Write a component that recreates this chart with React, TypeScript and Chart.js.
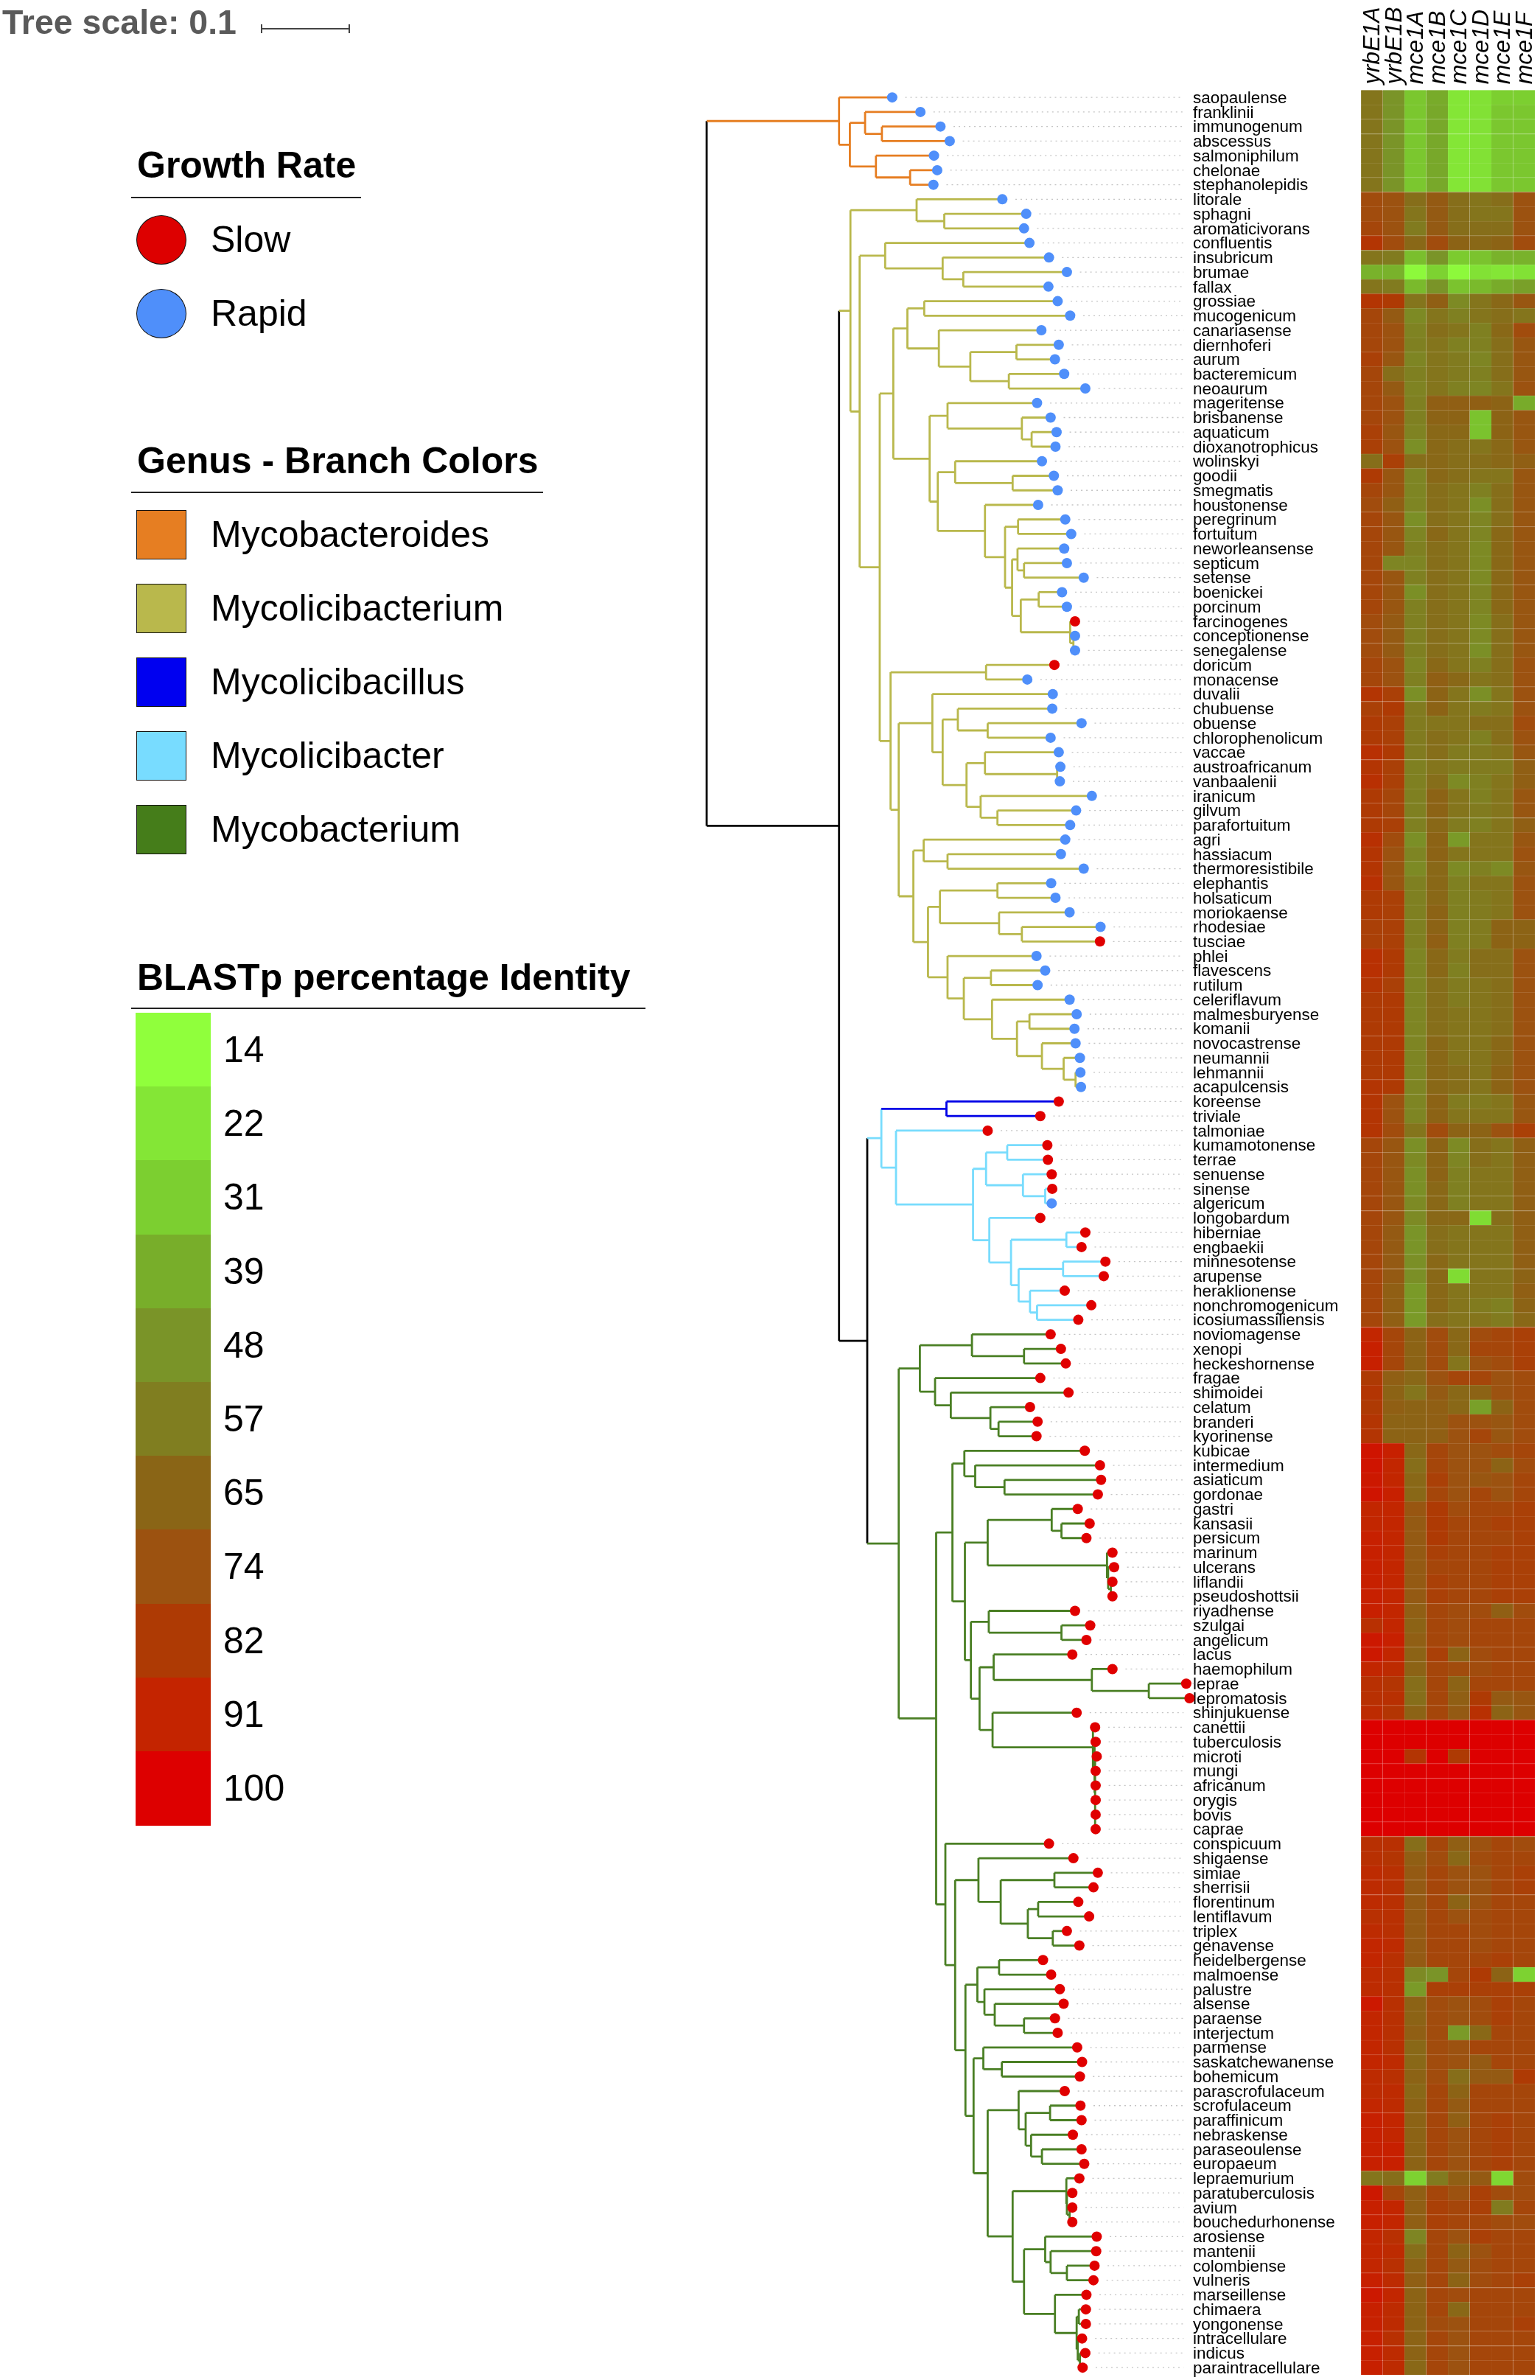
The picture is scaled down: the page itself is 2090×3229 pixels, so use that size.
import React, { useEffect, useRef } from "react";
import { Chart, registerables } from "chart.js";

Chart.register(...registerables);

const species = [
  "saopaulense","franklinii","immunogenum","abscessus","salmoniphilum","chelonae","stephanolepidis",
  "litorale","sphagni","aromaticivorans","confluentis","insubricum","brumae","fallax",
  "grossiae","mucogenicum","canariasense","diernhoferi","aurum","bacteremicum","neoaurum",
  "mageritense","brisbanense","aquaticum","dioxanotrophicus","wolinskyi","goodii","smegmatis",
  "houstonense","peregrinum","fortuitum","neworleansense","septicum","setense","boenickei","porcinum","farcinogenes","conceptionense","senegalense",
  "doricum","monacense","duvalii","chubuense","obuense","chlorophenolicum","vaccae","austroafricanum","vanbaalenii","iranicum","gilvum","parafortuitum",
  "agri","hassiacum","thermoresistibile","elephantis","holsaticum","moriokaense","rhodesiae","tusciae",
  "phlei","flavescens","rutilum","celeriflavum","malmesburyense","komanii","novocastrense","neumannii","lehmannii","acapulcensis",
  "koreense","triviale","talmoniae","kumamotonense","terrae","senuense","sinense","algericum","longobardum",
  "hiberniae","engbaekii","minnesotense","arupense","heraklionense","nonchromogenicum","icosiumassiliensis",
  "noviomagense","xenopi","heckeshornense","fragae","shimoidei","celatum","branderi","kyorinense",
  "kubicae","intermedium","asiaticum","gordonae","gastri","kansasii","persicum","marinum","ulcerans","liflandii","pseudoshottsii",
  "riyadhense","szulgai","angelicum","lacus","haemophilum","leprae","lepromatosis","shinjukuense",
  "canettii","tuberculosis","microti","mungi","africanum","orygis","bovis","caprae",
  "conspicuum","shigaense","simiae","sherrisii","florentinum","lentiflavum","triplex","genavense",
  "heidelbergense","malmoense","palustre","alsense","paraense","interjectum","parmense","saskatchewanense","bohemicum",
  "parascrofulaceum","scrofulaceum","paraffinicum","nebraskense","paraseoulense","europaeum",
  "lepraemurium","paratuberculosis","avium","bouchedurhonense","arosiense","mantenii","colombiense","vulneris",
  "marseillense","chimaera","yongonense","intracellulare","indicus","paraintracellulare",
];

const genes = ["yrbE1A","yrbE1B","mce1A","mce1B","mce1C","mce1D","mce1E","mce1F"];

// BLASTp percentage identity, one row per species, one value per gene.
const identity: number[][] = [
  [60,48,33,40,22,24,31,31],[60,48,33,41,22,24,33,33],[60,48,33,41,22,24,33,33],[60,48,33,41,22,24,33,33],[60,48,33,41,22,24,33,33],[60,48,33,41,22,24,33,33],[60,48,33,41,22,24,33,33],
  [76,74,62,70,62,60,62,74],[76,74,60,70,62,60,60,74],[78,74,58,70,62,62,62,74],[84,76,64,76,66,64,66,76],[60,58,35,48,32,34,38,38],[38,38,16,30,16,24,22,24],[60,58,36,48,34,36,40,44],
  [84,82,60,68,52,60,64,72],[78,70,52,60,56,60,62,60],[78,74,55,62,60,56,64,76],[78,74,56,60,56,56,62,72],[80,72,54,60,58,54,62,72],[78,62,56,60,58,56,62,72],[78,70,55,60,56,54,60,74],
  [78,74,56,68,68,68,66,40],[78,74,56,66,66,34,66,72],[80,72,55,64,64,34,66,72],[80,74,50,64,62,60,64,72],[62,80,62,64,62,62,64,68],[82,72,54,64,62,60,60,72],[78,72,54,62,60,56,62,72],
  [76,68,54,62,60,50,62,72],[78,72,50,62,60,54,62,72],[78,72,54,64,60,54,64,72],[78,72,56,62,60,52,64,72],[78,54,54,62,60,52,64,72],[78,72,56,62,60,52,64,72],[78,72,50,62,60,54,64,72],[78,72,56,62,60,54,64,72],[76,70,56,62,60,52,62,72],[76,70,56,62,60,52,62,72],[76,70,56,62,60,50,62,72],
  [78,74,54,64,60,56,62,74],[78,74,56,68,64,60,62,74],[84,80,50,66,60,50,60,74],[80,82,58,66,60,58,60,74],[82,80,58,60,60,62,62,76],[82,80,58,62,60,56,62,74],[86,82,58,62,58,58,60,72],[84,80,56,60,58,58,58,68],[86,80,56,62,52,56,60,68],[82,78,56,66,60,56,60,72],[82,78,56,66,60,58,60,72],[82,80,56,64,58,56,60,68],
  [86,76,50,66,46,60,60,72],[84,74,54,66,60,60,60,74],[84,72,52,64,52,56,52,72],[86,72,56,64,56,60,60,74],[82,80,56,64,56,58,60,74],[82,80,56,66,56,58,60,74],[80,80,56,66,56,58,66,66],[80,80,56,68,56,58,66,66],
  [86,82,54,64,58,62,62,74],[86,82,54,64,56,62,62,74],[84,80,54,62,58,60,62,74],[82,82,54,62,58,60,62,74],[82,82,54,62,60,60,62,74],[82,82,54,62,60,60,62,74],[82,82,54,64,60,60,64,74],[82,82,54,64,60,60,64,74],[82,82,54,64,62,60,66,74],[84,82,54,64,62,60,66,74],
  [84,74,54,66,58,58,60,72],[84,74,54,66,60,60,60,72],[84,76,60,76,66,66,74,80],[78,72,50,66,52,62,60,68],[78,72,52,66,54,62,60,68],[78,72,50,66,56,60,60,68],[78,72,50,64,56,60,60,68],[78,72,52,64,56,60,60,68],[78,72,52,64,64,26,62,68],
  [78,70,48,62,60,60,60,68],[78,70,48,62,60,60,60,68],[78,70,50,64,60,60,60,68],[78,70,50,64,26,60,60,66],[78,68,46,64,60,60,60,68],[78,68,46,64,60,58,56,66],[78,68,46,62,60,60,58,64],
  [90,78,66,76,64,76,78,80],[92,78,66,76,64,78,78,80],[92,78,66,76,60,74,76,80],[82,68,64,74,78,78,74,76],[84,66,60,70,64,66,74,76],[82,68,66,68,64,44,66,76],[84,66,66,68,74,74,72,76],[84,66,66,68,74,78,72,76],
  [95,92,64,78,74,74,76,78],[95,90,62,78,74,74,66,76],[94,90,64,80,74,72,74,78],[95,92,64,78,74,78,74,78],[90,90,72,82,76,78,78,80],[90,90,70,82,78,78,80,80],[92,90,70,82,78,78,78,80],[92,90,70,80,78,78,80,80],[92,90,70,78,78,78,80,80],[92,90,70,80,78,78,80,80],[92,90,70,80,78,78,80,80],
  [92,90,68,78,76,76,68,76],[86,90,66,78,76,78,78,78],[94,92,68,78,76,78,78,78],[94,90,66,80,66,76,78,78],[90,88,66,78,76,76,78,78],[86,84,62,78,66,78,78,78],[86,86,62,78,68,82,70,72],[88,84,66,78,70,86,66,72],
  [100,100,100,100,100,100,100,100],[100,100,100,100,100,100,100,100],[100,100,84,100,82,100,100,100],[100,100,100,100,100,100,100,100],[100,100,100,100,100,100,100,100],[100,100,100,100,100,100,100,100],[100,100,100,100,100,100,100,100],[100,100,100,100,100,100,100,100],
  [86,86,62,78,68,74,78,76],[86,84,68,76,64,76,78,78],[88,86,70,78,74,74,78,80],[88,86,70,78,74,74,78,80],[88,86,70,78,66,74,78,78],[86,86,70,78,74,76,78,78],[88,86,70,78,78,76,78,78],[90,88,70,78,78,76,78,78],
  [90,86,70,78,78,78,80,78],[88,86,52,48,78,82,66,30],[88,86,46,80,80,80,80,80],[94,86,66,76,74,76,80,78],[90,86,66,76,74,76,80,78],[90,86,68,76,46,64,78,78],[90,86,64,76,74,78,78,78],[90,88,64,76,74,70,78,78],[88,86,66,76,62,70,70,82],
  [88,88,64,78,66,78,78,78],[90,88,66,78,70,78,78,78],[92,90,66,78,68,78,80,78],[92,90,66,78,74,78,80,78],[92,92,66,78,74,78,80,78],[92,92,66,78,74,78,80,78],
  [60,62,30,58,68,70,28,76],[94,78,68,78,74,80,76,76],[92,90,68,80,78,80,58,78],[92,90,68,80,78,78,76,76],[90,86,54,78,74,80,78,78],[90,88,62,78,66,74,78,78],[90,86,66,78,70,76,78,78],[92,88,68,78,66,76,78,80],
  [94,90,66,78,76,78,78,78],[92,88,66,78,64,78,78,78],[92,88,66,76,74,78,78,80],[92,86,66,78,74,78,78,78],[92,88,66,78,74,78,78,78],[92,88,64,78,74,78,78,78],
];

const identityLegend = [14, 22, 31, 39, 48, 57, 65, 74, 82, 91, 100];
const identityLegendColors = ["#90ff3c","#84e636","#7ccf30","#78ae2a","#7a9428","#807e20","#8a6516","#9c5210","#ae3a04","#c42400","#dd0000"];

const slowAmongRapid = ["farcinogenes", "doricum", "tusciae"];
const rapidAmongSlow = ["algericum"];
const firstSlowGrower = "koreense";

// Tree: a clade is [node position, ...children]; a bare number is the tip position of the next species in order.
type Clade = number | Clade[];
const mycobacteroides: Clade = [280, 378, [300, [328, 430, [359, 467, 484]], [348, 455, [411, 461, 454]]]];
const mycolicibacterium: Clade = [301,
  [423, 581, [474, 625, 621]],
  [318,
    [365, 631, [471, 667, [509, 700, 666]]],
    [355,
      [380,
        [406, [437, 683, 706], [464, 653, [522, [607, 685, 678], [593, 695, 734]]]],
        [447,
          [480, 645, [617, 670, [635, 681, 679]]],
          [462,
            [494, 654, [600, 676, 683]],
            [549, 647, [586, [610, 697, 708], [599, [609, 695, [621, 700, 731]], [615, [648, 691, 700], [706, 715, [712, 715, 715]]]]]],
          ],
        ],
      ],
      [375,
        [551, 677, 627],
        [390,
          [452, 674, [471, [499, 673, [554, 727, 670]], [515, [549, 685, [682, 688, 687]], [541, 746, [572, 717, 706]]]]],
          [417,
            [436, 697, [480, 689, 731]],
            [444,
              [466, [572, 671, 679], [575, 705, [617, 762, 761]]],
              [480, 644, [510, [560, 660, 646], [562, 705, [608, [631, 718, 714], [654, 716, [694, 724, [716, 725, 726]]]]]]],
            ],
          ],
        ],
      ],
    ],
  ],
];
const mycolicibacillus: Clade = [478, 685, 651];
const mycolicibacter: Clade = [358, mycolicibacillus,
  [385, 554,
    [527,
      [551, [590, 664, 665], [619, 672, [660, 673, 672]]],
      [557, 651, [597, [699, 734, 727], [611, [693, 771, 768], [632, 696, [645, 745, 721]]]]],
    ],
  ],
];
const mycobacterium: Clade = [390,
  [429, [525, 670, [621, 689, 698]], [457, 651, [486, 703, [559, 632, [574, 646, 644]]]]],
  [459,
    [489,
      [511, 733, [531, 761, [585, 763, 757]]],
      [512,
        [554, [672, 720, [690, 742, 736]], [774, 784, [776, 787, [781, 784, 784]]]],
        [523,
          [556, 715, [690, 743, 736]],
          [539,
            [565, 710, [746, 784, [851, 920, 926]]],
            [563, 718, [748, 752, [751, 753, [752, 755, 753, 753, 753, 753, 753]]]],
          ],
        ],
      ],
    ],
    [476, 667,
      [494,
        [537, 712, [578, [677, 757, 749], [628, [647, 721, 741], [674, 700, 723]]]],
        [513,
          [535, [575, 656, 671], [548, 687, [567, 694, [621, 678, 683]]]],
          [528,
            [546, 719, [580, 728, 724]],
            [554,
              [611, 696, [624, [669, 725, 727], [634, 711, [654, 727, 732]]]],
              [600,
                [699, 723, [700, 710, [705, 710, 710]]],
                [621,
                  [660, 755, [670, 754, [700, 751, 749]]],
                  [678, 736, [718, [722, 735, 735], [720, 728, [724, 734, 729]]]],
                ],
              ],
            ],
          ],
        ],
      ],
    ],
  ],
];
const backbone: Clade = [36, mycobacteroides, [280, mycolicibacterium, [332, mycolicibacter, mycobacterium]]];

const BLACK = "#000000";
const ORANGE = "#e67e22";
const OLIVE = "#b9b84c";
const BLUE = "#0000e6";
const CYAN = "#78dcfd";
const GREEN = "#4a7f24";
const SLOW = "#e00000";
const RAPID = "#4f8ffa";

const genusLegend: [string, string][] = [
  ["Mycobacteroides", ORANGE],
  ["Mycolicibacterium", OLIVE],
  ["Mycolicibacillus", "#0000f0"],
  ["Mycolicibacter", "#78dcff"],
  ["Mycobacterium", "#457d1a"],
];
const growthLegend: [string, string][] = [["Slow", "#dd0000"], ["Rapid", "#4f8ffa"]];

function hexRgb(h: string) {
  return [1, 3, 5].map((i) => parseInt(h.slice(i, i + 2), 16));
}
function identityColor(v: number, lighten = 0): string {
  let c = hexRgb(identityLegendColors[identityLegendColors.length - 1]);
  for (let i = 1; i < identityLegend.length; i++) {
    const a = identityLegend[i - 1];
    const b = identityLegend[i];
    if (v <= b) {
      const t = Math.max(0, (v - a) / (b - a));
      const ca = hexRgb(identityLegendColors[i - 1]);
      const cb = hexRgb(identityLegendColors[i]);
      c = ca.map((k, j) => k + (cb[j] - k) * t);
      break;
    }
  }
  const m = c.map((k) => Math.round(k + (255 - k) * lighten));
  return `rgb(${m[0]},${m[1]},${m[2]})`;
}

function buildTree() {
  const colorOf = new Map<Clade, string>([
    [mycobacteroides, ORANGE], [mycolicibacterium, OLIVE], [mycolicibacillus, BLUE], [mycolicibacter, CYAN], [mycobacterium, GREEN],
  ]);
  const segments: Record<string, { x: number; y: number }[]> = {};
  const add = (color: string, a: { x: number; y: number }, b: { x: number; y: number }) => {
    (segments[color] = segments[color] || []).push(a, b, { x: NaN, y: NaN });
  };
  const tips: { x: number; y: number }[] = [];
  const walk = (node: Clade, inherited: string): { x: number; y: number; color: string } => {
    if (typeof node === "number") {
      const tip = { x: node, y: tips.length };
      tips.push(tip);
      return { ...tip, color: inherited };
    }
    const color = colorOf.get(node) || inherited;
    const [x, ...kids] = node as [number, ...Clade[]];
    const placed = kids.map((k) => walk(k, color));
    const y = (placed[0].y + placed[placed.length - 1].y) / 2;
    placed.forEach((p) => add(p.color, { x, y: p.y }, { x: p.x, y: p.y }));
    add(color, { x, y: placed[0].y }, { x, y: placed[placed.length - 1].y });
    return { x, y, color };
  };
  walk(backbone, BLACK);
  return { segments, tips };
}

export default function App() {
  const ref = useRef<HTMLCanvasElement>(null);
  useEffect(() => {
    document.body.style.margin = "0";
    const { segments, tips } = buildTree();
    const firstSlow = species.indexOf(firstSlowGrower);
    const isSlow = (i: number) =>
      i >= firstSlow ? !rapidAmongSlow.includes(species[i]) : slowAmongRapid.includes(species[i]);
    const leaders: { x: number; y: number }[] = [];
    tips.forEach((t) => leaders.push({ x: t.x + 24, y: t.y }, { x: 915, y: t.y }, { x: NaN, y: NaN }));

    const heat = genes.map((g, c) => ({
      type: "bar" as const,
      label: g,
      xAxisID: "xHeat",
      yAxisID: "y",
      indexAxis: "y" as const,
      grouped: false,
      barThickness: 19.75,
      data: species.map((_, i) => ({ x: [c, c + 1], y: i })),
      backgroundColor: species.map((_, i) => identityColor(identity[i][c])),
      borderColor: species.map((_, i) => identityColor(identity[i][c], 0.12)),
      borderWidth: { top: 1, bottom: 0, left: 0, right: 0 },
      order: 5,
    }));
    const branches = Object.keys(segments).map((color) => ({
      type: "scatter" as const,
      label: "branches " + color,
      xAxisID: "xTree",
      yAxisID: "y",
      data: segments[color],
      showLine: true,
      spanGaps: false,
      borderColor: color,
      borderWidth: 2.8,
      pointRadius: 0,
      order: 3,
    }));
    const chart = new Chart(ref.current!, {
      type: "bar",
      data: {
        datasets: [
          ...heat,
          {
            type: "scatter",
            label: "leaders",
            xAxisID: "xTree",
            yAxisID: "y",
            data: leaders,
            showLine: true,
            spanGaps: false,
            borderColor: "#c4c4c4",
            borderWidth: 1.3,
            borderDash: [2, 5],
            pointRadius: 0,
            order: 4,
          },
          ...branches,
          {
            type: "scatter",
            label: "growth rate",
            xAxisID: "xTree",
            yAxisID: "y",
            data: tips,
            pointRadius: 7,
            pointBorderWidth: 0,
            pointBackgroundColor: tips.map((_, i) => (isSlow(i) ? SLOW : RAPID)),
            order: 1,
          },
        ] as any,
      },
      options: {
        responsive: false,
        animation: false,
        events: [],
        layout: { padding: { left: 0, right: 4, top: 0, bottom: 6 } },
        plugins: { legend: { display: false }, tooltip: { enabled: false } },
        scales: {
          xTree: {
            axis: "x",
            type: "linear",
            display: false,
            offset: false,
            bounds: "data",
            min: (0 - 930) * 1.3517,
            max: (2086 - 930) * 1.3517,
          },
          xHeat: {
            axis: "x",
            type: "linear",
            position: "top",
            offset: false,
            bounds: "data",
            min: -1849 / 29.625,
            max: 8,
            grid: { display: false, drawTicks: false, offset: false },
            border: { display: false },
            afterBuildTicks: (s: any) => {
              s.ticks = genes.map((_, i) => ({ value: i + 0.5 }));
            },
            afterFit: (s: any) => {
              s.height = 122.3;
              s.paddingLeft = 0;
              s.paddingRight = 0;
            },
            ticks: {
              autoSkip: false,
              maxRotation: 90,
              minRotation: 90,
              padding: 8,
              labelOffset: 40,
              color: "#000",
              font: { family: "'Liberation Sans'", size: 32, style: "italic" },
              callback: (v: any) => genes[Math.floor(Number(v))],
            },
          },
          y: {
            axis: "y",
            type: "linear",
            position: "left",
            reverse: true,
            offset: false,
            bounds: "data",
            min: -0.5,
            max: species.length - 0.5,
            grid: { display: false, drawTicks: false, offset: false },
            border: { display: false },
            afterBuildTicks: (s: any) => {
              s.ticks = species.map((_, i) => ({ value: i }));
            },
            afterFit: (s: any) => {
              s.width = 0;
              s.paddingTop = 0;
              s.paddingBottom = 0;
            },
            ticks: {
              autoSkip: false,
              mirror: true,
              padding: 1612,
              labelOffset: 1.5,
              color: "#000",
              font: { family: "'Liberation Sans'", size: 22.5 },
              callback: (v: any) => species[Number(v)],
            },
          },
        },
      } as any,
    });
    return () => chart.destroy();
  }, []);

  const txt = (left: number, top: number, size: number, s: string, extra: React.CSSProperties = {}) => (
    <div style={{ position: "absolute", left, top, fontSize: size, lineHeight: `${size}px`, whiteSpace: "nowrap", color: "#000", ...extra }}>{s}</div>
  );
  const rule = (top: number, left: number, right: number) => (
    <div style={{ position: "absolute", left, top, width: right - left, height: 2, background: "#222" }} />
  );
  return (
    <div style={{ position: "absolute", left: 0, top: 0, width: 2090, height: 3229, overflow: "hidden", background: "#fff", fontFamily: "'Liberation Sans'" }}>
      <canvas ref={ref} width={2090} height={3229} style={{ position: "absolute", left: 0, top: 0, width: 2090, height: 3229 }} />
      {txt(3, 7, 46.5, "Tree scale: 0.1", { color: "#5a5a5a", fontWeight: 700 })}
      <div style={{ position: "absolute", left: 354, top: 38, width: 120, height: 1.5, background: "#444" }} />
      <div style={{ position: "absolute", left: 354, top: 33, width: 1.5, height: 12, background: "#444" }} />
      <div style={{ position: "absolute", left: 473, top: 33, width: 1.5, height: 12, background: "#444" }} />

      {txt(186, 199, 50, "Growth Rate", { fontWeight: 700 })}
      {rule(267, 178, 490)}
      {growthLegend.map(([name, color], i) => (
        <React.Fragment key={name}>
          <div style={{ position: "absolute", left: 185, top: 292 + i * 100, width: 68, height: 67, boxSizing: "border-box", borderRadius: "50%", background: color, border: "1.5px solid #111" }} />
          {txt(286, 300 + i * 100, 50, name)}
        </React.Fragment>
      ))}

      {txt(186, 600, 50, "Genus - Branch Colors", { fontWeight: 700 })}
      {rule(667, 178, 737)}
      {genusLegend.map(([name, color], i) => (
        <React.Fragment key={name}>
          <div style={{ position: "absolute", left: 185, top: 692 + i * 100, width: 68, height: 67, boxSizing: "border-box", background: color, border: "1.5px solid #111" }} />
          {txt(286, 700 + i * 100, 50, name)}
        </React.Fragment>
      ))}

      {txt(186, 1301, 50, "BLASTp percentage Identity", { fontWeight: 700 })}
      {rule(1367, 178, 876)}
      {identityLegend.map((v, i) => (
        <React.Fragment key={v}>
          <div style={{ position: "absolute", left: 184, top: 1374 + i * 100.2, width: 102, height: 100.8, background: identityLegendColors[i] }} />
          {txt(303, 1399 + i * 100.2, 50, String(v))}
        </React.Fragment>
      ))}
    </div>
  );
}
